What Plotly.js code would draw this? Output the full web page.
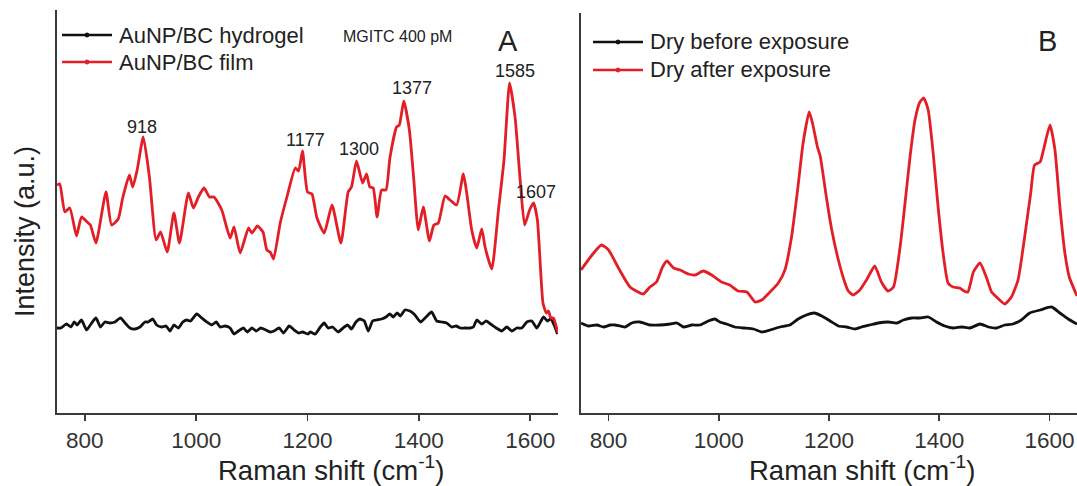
<!DOCTYPE html>
<html>
<head>
<meta charset="utf-8">
<script src="https://cdn.plot.ly/plotly-3.0.1.min.js"></script>
<style>html,body{margin:0;padding:0;background:#fff;}#chart{width:1077px;height:486px;}</style>
</head>
<body>
<div id="chart"></div>
<script>
// ---------- Panel A : MGITC 400 pM ----------
const filmA_x = [750,755,764,773,785,794,806,810,820,838,848,860,868,880,886,894,905,916,928,936,948,960,970,986,995,1004,1014,1024,1032,1046,1061,1068,1079,1094,1100,1110,1120,1127,1133,1139,1151,1164,1178,1184,1191,1200,1208,1217,1230,1244,1260,1273,1279,1288,1299,1306,1312,1318,1325,1333,1341,1348,1360,1365,1373,1383,1391,1399,1408,1419,1427,1435,1447,1456,1468,1480,1486,1495,1504,1513,1519,1531,1543,1553,1563,1573,1582,1590,1599,1606,1613,1623,1629,1633,1637,1642,1645,1650];
const filmA_y = [228,229,201,205,177,196,190,188,170,221,188,194,215,238,226,243,276,236,173,181,161,200,170,220,205,216,225,216,216,203,175,186,160,185,180,187,181,163,161,154,190,218,245,242,262,221,219,195,180,208,170,221,226,252,230,239,226,225,196,223,223,255,286,288,312,283,233,183,206,172,188,190,217,213,208,239,220,183,165,184,166,144,203,253,330,295,233,188,203,210,193,110,100,102,95,95,90,80];

const gelA_x = [750,757,767,775,781,786,794,803,811,820,828,836,845,854,864,874,881,890,899,908,914,922,929,938,946,953,960,968,976,983,990,1001,1010,1019,1028,1036,1043,1052,1061,1068,1076,1085,1092,1100,1108,1116,1125,1133,1140,1149,1157,1167,1176,1184,1191,1201,1205,1214,1223,1230,1237,1245,1255,1264,1272,1279,1287,1294,1302,1309,1317,1324,1333,1341,1348,1354,1361,1367,1375,1384,1393,1403,1413,1423,1432,1441,1450,1459,1467,1474,1483,1492,1498,1504,1513,1521,1529,1539,1549,1558,1567,1576,1585,1594,1603,1612,1624,1631,1637,1643,1649];
const gelA_y = [85,85,89,86,91,88,93,83,89,95,86,91,90,91,95,89,85,84,86,91,91,94,88,86,87,82,88,85,91,93,92,99,95,91,88,91,86,87,85,79,82,85,81,85,82,85,83,81,82,85,80,87,83,80,81,79,81,79,86,90,85,86,81,85,88,84,91,94,92,82,92,93,94,96,99,96,100,97,103,102,98,91,96,101,92,91,90,86,87,85,85,85,86,93,89,92,89,85,82,86,82,85,85,91,92,85,96,92,94,88,79];

const peakA_x = [903, 1197, 1293, 1388, 1573, 1610];
const peakA_y = [286, 273, 264, 325, 342, 221];
const peakA_text = ["918", "1177", "1300", "1377", "1585", "1607"];

// ---------- Panel B : dry film before / after exposure ----------
const afterB_x = [750,770,787,800,818,839,863,875,887,898,906,918,930,945,957,972,987,1005,1020,1035,1051,1066,1078,1093,1108,1120,1132,1143,1153,1164,1170,1179,1184,1196,1205,1217,1229,1235,1244,1256,1268,1283,1295,1307,1317,1329,1338,1347,1356,1365,1372,1380,1389,1398,1407,1416,1425,1437,1445,1452,1462,1474,1486,1495,1504,1519,1531,1543,1555,1566,1573,1583,1590,1601,1610,1619,1628,1636,1650];
const afterB_y = [143,158,168,163,145,126,119,126,131,146,152,145,143,139,138,142,138,131,128,122,121,111,113,121,130,143,176,223,270,301,290,266,257,213,183,153,130,122,118,123,133,147,131,122,126,166,210,256,293,311,315,303,260,206,160,130,126,125,122,121,141,150,135,121,116,109,116,133,176,220,248,251,265,288,263,206,160,136,117];

const beforeB_x = [750,763,779,791,803,812,830,842,857,875,893,912,924,936,951,966,981,993,1002,1014,1029,1045,1063,1078,1093,1111,1129,1144,1159,1173,1187,1202,1217,1232,1247,1259,1274,1289,1307,1323,1335,1350,1365,1380,1395,1410,1425,1441,1456,1474,1489,1504,1519,1534,1549,1564,1583,1604,1619,1634,1650];
const beforeB_y = [90,87,88,86,88,88,86,90,91,88,88,89,90,86,88,88,92,94,91,89,86,85,84,81,83,86,88,94,98,100,97,92,87,86,84,86,88,90,91,90,93,95,95,96,91,87,85,86,85,89,86,85,88,89,93,100,103,106,100,94,89];

const tickVals = [800, 1000, 1200, 1400, 1600];
const tickText = ["800", "1000", "1200", "1400", "1600"];

const RED = "rgb(226,30,38)";
const BLACK = "#111111";
const TXT = "#222222";
const FONT = "Liberation Sans, Arial, sans-serif";

const W = 1077, H = 486, ML = 57, MR = 0, MT = 10, MB = 73;
const PW = W - ML - MR, PH = H - MT - MB;
const px = v => (v - ML) / PW;          // pixel -> paper x
const py = v => (H - MB - v) / PH;      // pixel -> paper y

const lineStyle = (c) => ({color: c, width: 2.8, shape: "spline", smoothing: 0.5});

const traces = [
  {x: gelA_x, y: gelA_y, type: "scatter", mode: "lines", name: "AuNP/BC hydrogel", line: lineStyle(BLACK), xaxis: "x", yaxis: "y", showlegend: false},
  {x: filmA_x, y: filmA_y, type: "scatter", mode: "lines", name: "AuNP/BC film", line: lineStyle(RED), xaxis: "x", yaxis: "y", showlegend: false},
  {x: beforeB_x, y: beforeB_y, type: "scatter", mode: "lines", name: "Dry before exposure", line: lineStyle(BLACK), xaxis: "x2", yaxis: "y2", showlegend: false},
  {x: afterB_x, y: afterB_y, type: "scatter", mode: "lines", name: "Dry after exposure", line: lineStyle(RED), xaxis: "x2", yaxis: "y2", showlegend: false}
];

const xCommon = {
  range: [750, 1650], tickvals: tickVals, ticktext: tickText,
  showline: true, linecolor: "#3a3a3a", linewidth: 1.6, mirror: false,
  ticks: "outside", ticklen: 6, tickwidth: 1.6, tickcolor: "#3a3a3a",
  showgrid: false, zeroline: false,
  tickfont: {family: FONT, size: 22.5, color: "#333"}, fixedrange: true
};
const yCommon = {
  showline: true, linecolor: "#3a3a3a", linewidth: 1.6,
  ticks: "", showticklabels: false, showgrid: false, zeroline: false, fixedrange: true
};

const annotations = [];
peakA_text.forEach((t, i) => annotations.push({
  x: peakA_x[i], y: peakA_y[i], xref: "x", yref: "y", text: t, showarrow: false,
  xanchor: "center", yanchor: "middle", font: {family: FONT, size: 18, color: TXT}
}));

const shapes = [];
function legendItem(x0, x1, yPix, color, label) {
  shapes.push({type: "line", xref: "paper", yref: "paper", x0: px(x0), x1: px(x1), y0: py(yPix), y1: py(yPix),
               line: {color: color, width: 2.4}});
  const xm = (x0 + x1) / 2;
  shapes.push({type: "circle", xref: "paper", yref: "paper", x0: px(xm - 2), x1: px(xm + 2), y0: py(yPix + 2), y1: py(yPix - 2),
               fillcolor: color, line: {color: color, width: 1}});
  annotations.push({x: px(x1 + 5), y: py(yPix), xref: "paper", yref: "paper", text: label, showarrow: false,
                    xanchor: "left", yanchor: "middle", font: {family: FONT, size: 22, color: TXT}});
}
legendItem(62, 112, 35, BLACK, "AuNP/BC hydrogel");
legendItem(62, 112, 62, RED, "AuNP/BC film");
legendItem(593, 643, 42, BLACK, "Dry before exposure");
legendItem(593, 643, 70, RED, "Dry after exposure");

annotations.push(
  {x: px(397), y: py(37), xref: "paper", yref: "paper", text: "MGITC 400 pM", showarrow: false,
   xanchor: "center", yanchor: "middle", font: {family: FONT, size: 16, color: TXT}},
  {x: px(508), y: py(41), xref: "paper", yref: "paper", text: "A", showarrow: false,
   xanchor: "center", yanchor: "middle", font: {family: FONT, size: 29, color: TXT}},
  {x: px(1047), y: py(41), xref: "paper", yref: "paper", text: "B", showarrow: false,
   xanchor: "center", yanchor: "middle", font: {family: FONT, size: 29, color: TXT}},
  {x: px(331), y: py(468), xref: "paper", yref: "paper", text: "Raman shift (cm<sup>-1</sup>)", showarrow: false,
   xanchor: "center", yanchor: "middle", font: {family: FONT, size: 27.5, color: TXT}},
  {x: px(862), y: py(468), xref: "paper", yref: "paper", text: "Raman shift (cm<sup>-1</sup>)", showarrow: false,
   xanchor: "center", yanchor: "middle", font: {family: FONT, size: 27.5, color: TXT}},
  {x: px(25), y: py(232), xref: "paper", yref: "paper", text: "Intensity (a.u.)", showarrow: false, textangle: -90,
   xanchor: "center", yanchor: "middle", font: {family: FONT, size: 27, color: TXT}}
);

const layout = {
  width: W, height: H,
  margin: {l: ML, r: MR, t: MT, b: MB, pad: 0},
  paper_bgcolor: "#ffffff", plot_bgcolor: "#ffffff",
  showlegend: false,
  xaxis: Object.assign({}, xCommon, {domain: [0, px(558)], anchor: "y"}),
  xaxis2: Object.assign({}, xCommon, {domain: [px(581), 1], anchor: "y2"}),
  yaxis: Object.assign({}, yCommon, {domain: [0, 1], range: [0, 403], anchor: "x"}),
  yaxis2: Object.assign({}, yCommon, {domain: [0, py(13)], range: [0, 400], anchor: "x2"}),
  annotations: annotations,
  shapes: shapes
};

Plotly.newPlot("chart", traces, layout, {displayModeBar: false, staticPlot: true});
</script>
</body>
</html>
